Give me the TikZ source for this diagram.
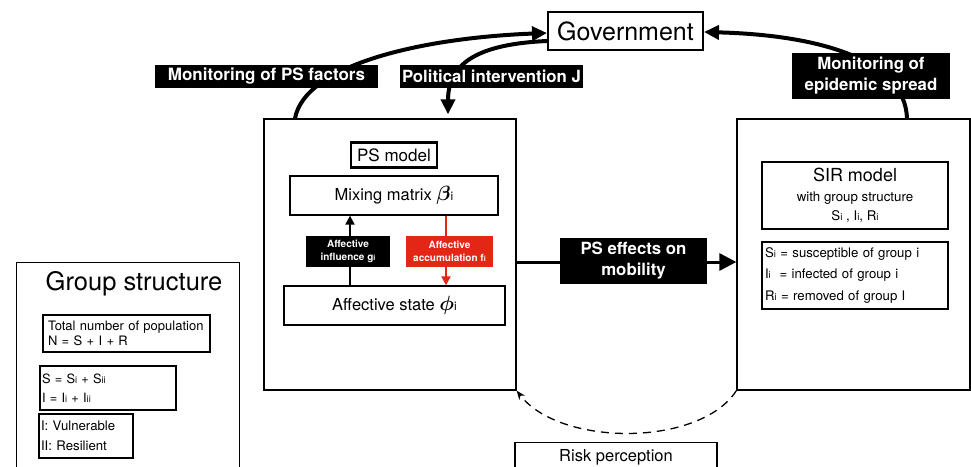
\RequirePackage{fix-cm}
\documentclass[tikz,border=0pt]{standalone}
\usepackage{fontspec}
\setmainfont{TeX Gyre Heros}
\usepackage{graphicx}
\usepackage{bm}
\usetikzlibrary{arrows.meta,calc}
\definecolor{accred}{RGB}{228,38,22}
\newcommand\sbx[1]{\scalebox{0.72}{#1}}
\newcommand\fsz[2]{\fontsize{#1}{#2}\selectfont}
\begin{document}
\begin{tikzpicture}[x=1pt,y=-1pt,
  boxs/.style={draw, line width=1.3pt, inner sep=0pt},
  thickbox/.style={draw, line width=2.5pt, inner sep=0pt},
  blabel/.style={fill=black, text=white, inner sep=0pt, align=center},
  bigarrow/.style={line width=4pt, -{Triangle[length=15pt,width=14pt]}},
  midarrow/.style={line width=3pt, -{Triangle[length=17pt,width=17pt]}},
  smallarrow/.style={line width=2pt, -{Triangle[length=9pt,width=9pt]}},
  dasharrow/.style={line width=1.3pt, dash pattern=on 8pt off 6pt, -{Stealth[length=9pt,width=7pt]}}
]
\useasboundingbox (0,0) rectangle (971,466);
\fill[white] (0,0) rectangle (971,466);
\clip (0,0) rectangle (971,466);

% Government
\node[boxs, line width=2pt, minimum width=155, minimum height=38, font=\fsz{25}{30}] (gov) at (625.5,31) {Government};

% PS model block
\node[boxs, minimum width=252, minimum height=271] (ps) at (390,254.5) {};
\node[thickbox, minimum width=86, minimum height=25, font=\fsz{17}{20}] (psm) at (394,155) {PS model};
\node[boxs, minimum width=208, minimum height=39, font=\fsz{16.5}{20}] (mix) at (394,195.5) {Mixing matrix \scalebox{1.25}{$\bm{\beta}$}\sbx{i}};
\node[boxs, minimum width=221, minimum height=39, font=\fsz{16.5}{20}] (aff) at (394.5,305.5) {Affective state \scalebox{1.25}{$\bm{\phi}$}\sbx{i}};
\draw[smallarrow] ([xshift=-44.5pt]aff.north) -- ([xshift=-44.5pt]aff.north |- mix.south);
\draw[smallarrow, draw=accred, fill=accred] ([xshift=52pt]mix.south) -- ([xshift=52pt]mix.south |- aff.north);
\node[blabel, minimum width=84, minimum height=31, font={\fsz{10}{13.5}\bfseries}] (gl) at (348,251.5) {Affective\\influence g\sbx{i}};
\node[blabel, fill=accred, minimum width=87, minimum height=31, font={\fsz{10}{13.5}\bfseries}] (fl) at (449.5,251.5) {Affective\\accumulation f\sbx{i}};

% SIR block
\node[boxs, minimum width=233, minimum height=271] (sir) at (853.5,254.5) {};
\node[thickbox, minimum width=186, minimum height=67, align=center, font=\fsz{13.3}{19.5}] (sirm) at (855,195.5) {{\fsz{18}{19.5}SIR model}\\with group structure\\S\sbx{i} , I\sbx{i}, R\sbx{i}};
\node[boxs, minimum width=186, minimum height=67, text width=180, align=left, font=\fsz{13.2}{21.5}] (sird) at (855,275.5) {S\sbx{i} = susceptible of group i\\I\sbx{i}~~= infected of group i\\R\sbx{i} = removed of group I};

% Group structure
\node[boxs, minimum width=223, minimum height=220, anchor=north west] (grp) at (16,262) {};
\node[inner sep=0pt, font=\fsz{25.5}{30}] (grpt) at (134,284) {Group structure};
\node[boxs, minimum width=167, minimum height=37, text width=157, align=left, font=\fsz{13}{15}] (tot) at (126.5,333.5) {Total number of population\\N = S + I + R};
\node[boxs, minimum width=136, minimum height=44, text width=132, align=left, font=\fsz{12.8}{19}] (sbox) at (108,388) {S = S\sbx{i} + S\sbx{ii}\\I = I\sbx{i} + I\sbx{ii}};
\node[boxs, minimum width=94, minimum height=44, text width=90, align=left, font=\fsz{13.2}{20}] (ibox) at (86,436) {I: Vulnerable\\II: Resilient};

% Risk perception
\node[boxs, minimum width=202, minimum height=30, anchor=north, font=\fsz{16.5}{20}] (risk) at (616,442) {Risk perception};

% connectors
\draw[bigarrow] ([xshift=-95pt]ps.north) .. controls (305,65) and (420,38) .. ([yshift=-2pt]gov.west);
\draw[bigarrow] ([yshift=-10pt]gov.west) .. controls (480,44) and (448,62) .. ([xshift=58pt, yshift=4pt]ps.north);
\draw[bigarrow] ([xshift=53.5pt]sir.north) .. controls (905,60) and (820,35) .. ([yshift=-1pt]gov.east);
\coordinate (pseC) at (633.5,262);
\draw[midarrow] (ps.east |- pseC) -- (sir.west |- pseC);
\node[blabel, minimum width=147, minimum height=46, font={\fsz{16.8}{21}\bfseries}] (pse) at (633.5,261) {PS effects on\\mobility};
\draw[dasharrow] (sir.south west) .. controls (700,447) and (560,447) .. (ps.south east);

\node[blabel, minimum width=223, minimum height=23, font={\fsz{17}{20}\bfseries}] (monps) at (266.5,76.5) {Monitoring of PS factors};
\node[blabel, minimum width=183, minimum height=23, font={\fsz{16.8}{20}\bfseries}] (pol) at (491.5,76.5) {Political intervention J};
\node[blabel, minimum width=158, minimum height=46, font={\fsz{16.8}{21}\bfseries}] (epi) at (871,76) {Monitoring of\\epidemic spread};
\end{tikzpicture}
\end{document}
